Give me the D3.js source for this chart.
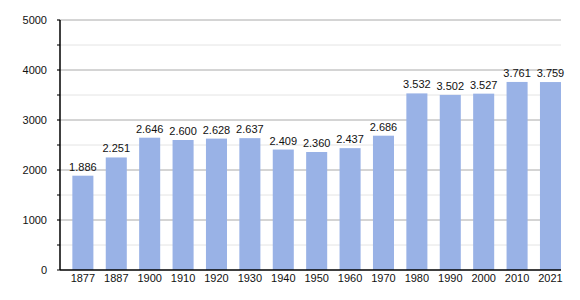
<!DOCTYPE html>
<html>
<head>
<meta charset="utf-8">
<script src="https://cdn.jsdelivr.net/npm/d3@7"></script>
<style>
  body { margin: 0; background: #fff; }
  svg { display: block; font-family: "Liberation Sans", Arial, sans-serif; }
</style>
</head>
<body>
<svg id="chart" width="580" height="300"></svg>
<script>
// dati popolazione
const years = ["1877", "1887", "1900", "1910", "1920", "1930", "1940", "1950", "1960", "1970", "1980", "1990", "2000", "2010", "2021"];
const population = [1886, 2251, 2646, 2600, 2628, 2637, 2409, 2360, 2437, 2686, 3532, 3502, 3527, 3761, 3759];
const majorTicks = [0, 1000, 2000, 3000, 4000, 5000];
const minorTicks = [500, 1500, 2500, 3500, 4500];

const svg = d3.select("#chart");
const plotLeft = 60, plotRight = 561, plotTop = 20, plotBottom = 270;

const x = d3.scaleBand().domain(years).range([plotLeft, plotRight]).padding(0);
const y = d3.scaleLinear().domain([0, 5000]).range([plotBottom, plotTop]);

const fmt = v => d3.format(",")(v).replace(",", ".");

// griglia secondaria
svg.append("g").selectAll("line")
    .data(minorTicks)
    .join("line")
    .attr("x1", plotLeft - 3).attr("x2", plotRight)
    .attr("y1", d => y(d)).attr("y2", d => y(d))
    .attr("stroke", "#e4e4e4");

// griglia principale
svg.append("g").selectAll("line")
    .data(majorTicks.filter(d => d > 0))
    .join("line")
    .attr("x1", plotLeft - 3).attr("x2", plotRight)
    .attr("y1", d => y(d)).attr("y2", d => y(d))
    .attr("stroke", "#aaaaaa");

// tick a sinistra
svg.append("g").selectAll("line")
    .data(majorTicks.concat(minorTicks))
    .join("line")
    .attr("x1", plotLeft - 3).attr("x2", plotLeft)
    .attr("y1", d => y(d)).attr("y2", d => y(d))
    .attr("stroke", "#000");

const bw = x.bandwidth() * 0.63;

svg.append("g").selectAll("rect")
    .data(population)
    .join("rect")
    .attr("x", (d, i) => x(years[i]) + x.bandwidth() - bw)
    .attr("width", bw)
    .attr("y", d => y(d))
    .attr("height", d => y(0) - y(d))
    .attr("fill", "#99b2e6");

// etichette valori
svg.append("g").selectAll("text")
    .data(population)
    .join("text")
    .attr("x", (d, i) => x(years[i]) + x.bandwidth() - bw / 2)
    .attr("y", d => y(d) - 5)
    .attr("text-anchor", "middle")
    .attr("font-size", 11)
    .attr("fill", "#111")
    .text(d => fmt(d));

// etichette anni
svg.append("g").selectAll("text")
    .data(years)
    .join("text")
    .attr("x", d => x(d) + x.bandwidth() - bw / 2)
    .attr("y", 282)
    .attr("text-anchor", "middle")
    .attr("font-size", 11)
    .attr("fill", "#111")
    .text(d => d);

// etichette asse y
svg.append("g").selectAll("text")
    .data(majorTicks)
    .join("text")
    .attr("x", 47)
    .attr("y", d => y(d) + 4)
    .attr("text-anchor", "end")
    .attr("font-size", 11)
    .attr("fill", "#111")
    .text(d => d);

// assi
svg.append("line")
    .attr("x1", plotLeft).attr("x2", plotLeft)
    .attr("y1", plotTop).attr("y2", plotBottom)
    .attr("stroke", "#000").attr("stroke-width", 1.5);
svg.append("line")
    .attr("x1", plotLeft).attr("x2", plotRight)
    .attr("y1", plotBottom).attr("y2", plotBottom)
    .attr("stroke", "#000").attr("stroke-width", 1.5);
</script>
</body>
</html>
